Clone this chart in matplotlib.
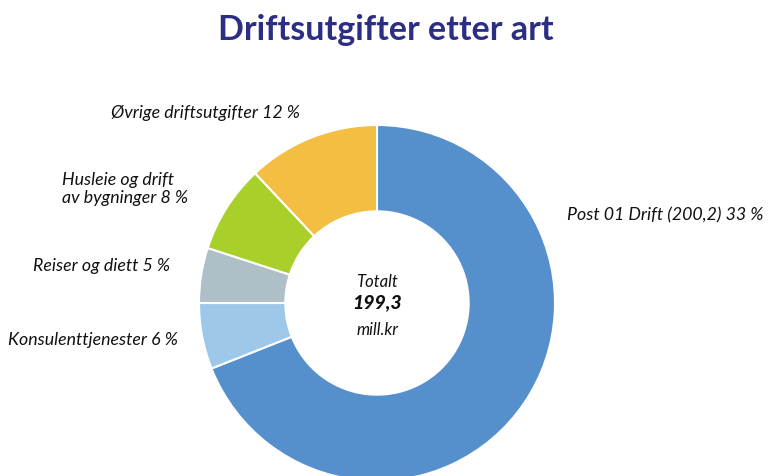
import matplotlib
matplotlib.use("Agg")
import matplotlib.pyplot as plt

title = "Driftsutgifter etter art"
categories = ["Post 01 Drift (200,2) 33 %", "Konsulenttjenester 6 %", "Reiser og diett 5 %",
              "Husleie og drift\nav bygninger 8 %", "Øvrige driftsutgifter 12 %"]
values = [69, 6, 5, 8, 12]
colors = ["#5590CD", "#9DC8EA", "#AFBFC7", "#A8CF2A", "#F4BE42"]
center_lines = ["Totalt", "199,3", "mill.kr"]

W, H = 771, 476
fig = plt.figure(figsize=(W / 100, H / 100), dpi=100)
plt.rcParams['font.family'] = ['Lato', 'DejaVu Sans']

cx, cy, R = 377, 303, 178
ax = fig.add_axes([(cx - R) / W, (H - cy - R) / H, 2 * R / W, 2 * R / H])
ax.pie(values, colors=colors, startangle=90, counterclock=False, radius=1,
       wedgeprops=dict(width=0.485, edgecolor="white", linewidth=1.5))
ax.set_xlim(-1, 1)
ax.set_ylim(-1, 1)
ax.set_aspect("equal")
ax.axis("off")

ax.text(0, 0.12, center_lines[0], ha="center", va="center", fontsize=12, style="italic", color="#111111")
ax.text(0, 0.0, center_lines[1], ha="center", va="center", fontsize=14, style="italic",
        fontweight="black", color="#111111")
ax.text(0, -0.15, center_lines[2], ha="center", va="center", fontsize=12, style="italic", color="#111111")

fig.text(0.5, 1 - 30 / H, title, ha="center", va="center", fontsize=24.5, fontweight="bold", color="#2B2E83")

lab_kw = dict(fontsize=12.8, style="italic", color="#111111", va="center")
def px(x, y):
    return x / W, 1 - y / H

fig.text(*px(567, 215), categories[0], ha="left", **lab_kw)
fig.text(*px(178, 340), categories[1], ha="right", **lab_kw)
fig.text(*px(170, 266), categories[2], ha="right", **lab_kw)
fig.text(*px(62, 189), categories[3], ha="left", linespacing=1.15, **lab_kw)
fig.text(*px(300, 113), categories[4], ha="right", **lab_kw)

fig.savefig("out.png", dpi=100)
